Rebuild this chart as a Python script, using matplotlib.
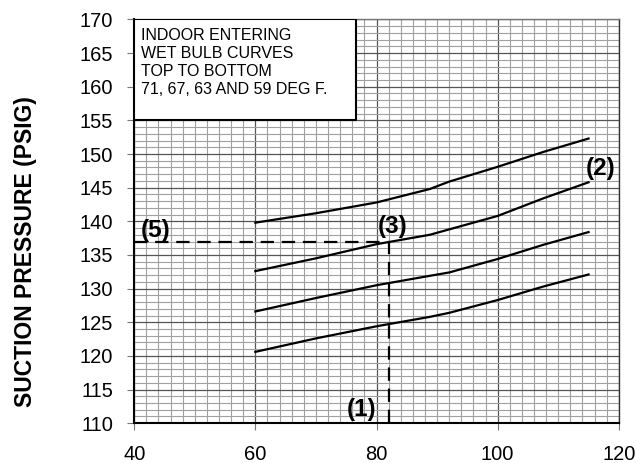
import matplotlib
matplotlib.use("Agg")
from matplotlib import pyplot as plt
from matplotlib.ticker import MultipleLocator

plt.rcParams['font.family'] = ['Liberation Sans', 'DejaVu Sans']

# courbes (temperature exterieure -> pression d'aspiration)
x_points = [60, 70, 80, 88.8, 92, 100, 107.5, 115]
wb71 = [139.8, 141.2, 142.8, 144.8, 145.9, 148.1, 150.3, 152.3]
wb67 = [132.6, 134.5, 136.6, 138.0, 138.8, 140.8, 143.4, 145.8]
wb63 = [126.6, 128.6, 130.5, 131.9, 132.4, 134.4, 136.5, 138.4]
wb59 = [120.6, 122.6, 124.4, 125.8, 126.4, 128.3, 130.3, 132.1]

x_ticks = [40, 60, 80, 100, 120]
y_ticks = list(range(110, 171, 5))

point_x = 82
point_y = 137

fig = plt.figure(figsize=(6.36, 4.63), dpi=100)
ax = fig.add_axes([0.211, 0.086, 0.762, 0.872])

ax.set_xlim(40, 120)
ax.set_ylim(110, 170)
ax.xaxis.set_minor_locator(MultipleLocator(2))
ax.yaxis.set_minor_locator(MultipleLocator(1))
ax.set_xticks(x_ticks)
ax.set_yticks(y_ticks)

ax.grid(which='minor', color='#a0a0a0', linewidth=0.8)
ax.grid(which='major', color='#555555', linewidth=0.9)
ax.set_axisbelow(True)
ax.tick_params(which='minor', length=0)
ax.tick_params(which='major', length=5, color='#777777', labelsize=14.5)
ax.tick_params(axis='x', pad=11)
ax.tick_params(axis='y', pad=10)

for s in ['left', 'bottom']:
    ax.spines[s].set_linewidth(1.5)
    ax.spines[s].set_color('black')
ax.spines['right'].set_color('#333333')
ax.spines['right'].set_linewidth(1.0)
ax.spines['top'].set_color('#777777')
ax.spines['top'].set_linewidth(1.0)

for serie in [wb71, wb67, wb63, wb59]:
    ax.plot(x_points, serie, color='black', linewidth=1.6)

ax.plot([40, point_x], [point_y, point_y], color='black', linewidth=1.6,
        linestyle=(0, (6, 3.5)))
ax.plot([point_x, point_x], [110, point_y], color='black', linewidth=1.6,
        linestyle=(0, (6, 3.5)))

ax.text(43.5, 138.6, "(5)", fontsize=17.5, fontweight='bold', ha='center', va='center')
ax.text(82.7, 139.2, "(3)", fontsize=17.5, fontweight='bold', ha='center', va='center')
ax.text(117.0, 147.9, "(2)", fontsize=17.5, fontweight='bold', ha='center', va='center')
ax.text(77.5, 112.0, "(1)", fontsize=17.5, fontweight='bold', ha='center', va='center')

ax.text(41.2, 168.8, "INDOOR ENTERING\nWET BULB CURVES\nTOP TO BOTTOM\n71, 67, 63 AND 59 DEG F.",
        fontsize=11.5, ha='left', va='top', linespacing=1.27, zorder=5)
ax.fill_between([40, 76.6], 155, 170, facecolor='white', edgecolor='black',
                linewidth=1.5, zorder=4)

fig.text(25.8 / 636, 1 - 252 / 463, "SUCTION PRESSURE (PSIG)", fontsize=16.5,
         fontweight='bold', rotation=90, ha='center', va='center')

fig.savefig("out.png", dpi=100)
